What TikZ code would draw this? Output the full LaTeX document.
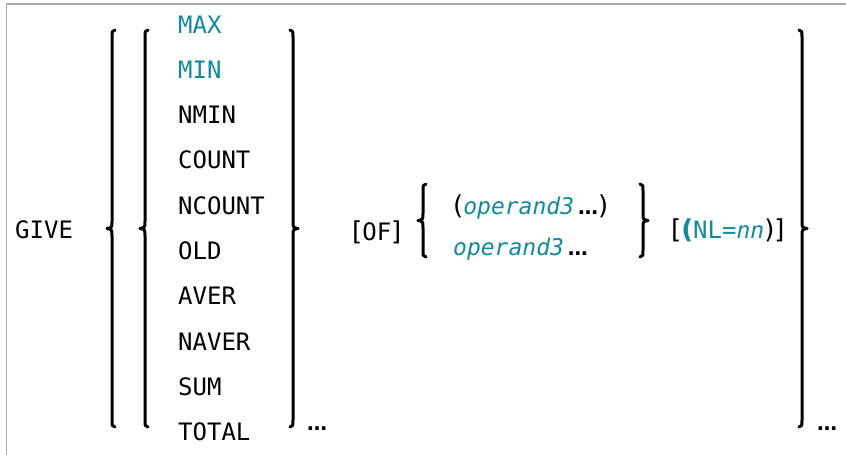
\documentclass[tikz,border=0pt]{standalone}
\usepackage{fontspec}
\usepackage{tikz}
\usepackage{xcolor}
\setsansfont{DejaVu Sans}
\newfontfamily\keyfamily{DejaVu Sans Mono}
\definecolor{optblue}{RGB}{18,138,158}
\definecolor{framegray}{RGB}{170,170,170}
\newcommand{\keyfont}{\keyfamily\fontsize{24}{28}\selectfont}
\newcommand{\argfont}{\keyfamily\itshape\fontsize{23}{27}\selectfont}
\newcommand{\brk}[1]{{\sffamily\fontsize{26}{30}\selectfont #1}}
\newcommand{\moredots}{{\sffamily\bfseries\fontsize{20}{24}\selectfont …}}
\newcommand{\tallbrace}[4]{
  \pgfmathsetmacro{\midY}{(#2+#3)/2}
  \draw[brace line] ({#1+(#4)*3},#2) .. controls (#1,{#2+1}) .. (#1,{#2+7})
    -- (#1,{\midY-7}) .. controls (#1,{\midY-1}) .. ({#1-(#4)*5},\midY)
    .. controls (#1,{\midY+1}) .. (#1,{\midY+7})
    -- (#1,{#3-7}) .. controls (#1,{#3-1}) .. ({#1+(#4)*3},#3);
}
\tikzset{
  keyword/.style={anchor=base west, inner sep=0pt, font=\keyfont},
  repeats/.style={anchor=base west, inner sep=0pt},
  brace line/.style={line width=3pt, line cap=round, line join=round},
  frame line/.style={draw=framegray, line width=1.5pt}
}
\begin{document}
\begin{tikzpicture}[x=1pt,y=-1pt]
      \useasboundingbox (0,0) rectangle (846,455);
      \draw[frame line] (6.5,455) -- (6.5,4) -- (846,4);
      \node[keyword] (give) at (15,238) {GIVE};
      \tallbrace{112}{30}{427}{1}
      \tallbrace{145}{30}{427}{1}
      \foreach \kw [count=\i] in {MAX,MIN,NMIN,COUNT,NCOUNT,OLD,AVER,NAVER,SUM,TOTAL}{
        \ifnum\i<3 \def\kwcol{optblue}\else \def\kwcol{black}\fi
        \node[keyword, text=\kwcol] (kw\i) at (178,{33+(\i-1)*45.33}) {\kw};
      }
      \tallbrace{293}{30}{427}{-1}
      \node[repeats] (rep1) at (307,430) {\moredots};
      \node[keyword] (of) at (352,240) {\brk{[}OF\brk{]}};
      \tallbrace{423}{184}{257}{1}
      \node[keyword] (op1) at (453,214) {\brk{(}{\argfont\color{optblue}operand3}\,\moredots\brk{)}};
      \node[keyword] (op2) at (453,255) {{\argfont\color{optblue}operand3}\,\moredots};
      \tallbrace{643}{184}{257}{-1}
      \node[keyword] (nl) at (671,238) {\brk{[}{\color{optblue}\brk{\bfseries(}NL=\argfont nn}\brk{)}\brk{]}};
      \tallbrace{802}{30}{427}{-1}
      \node[repeats] (rep2) at (817,430) {\moredots};
    \end{tikzpicture}
\end{document}
